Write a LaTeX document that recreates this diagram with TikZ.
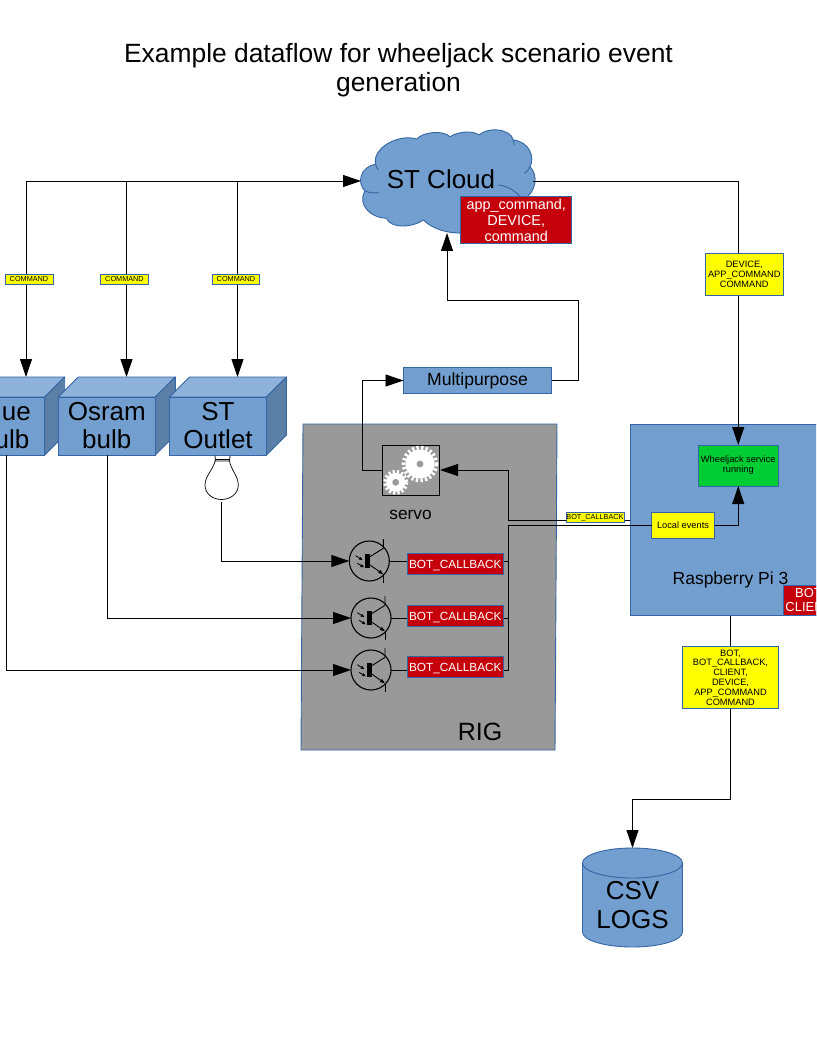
\documentclass[tikz,border=0pt]{standalone}
\usepackage{fontspec}
\setmainfont{Liberation Sans}
\usetikzlibrary{arrows.meta,calc}
\definecolor{bluefill}{HTML}{729FCF}
\definecolor{blueedge}{HTML}{3465A4}
\definecolor{bluetop}{HTML}{8EB2D9}
\definecolor{blueside}{HTML}{5B7FA6}
\definecolor{redbox}{HTML}{C5000B}
\definecolor{greenbox}{HTML}{00CC33}
\definecolor{riggray}{HTML}{999999}
\definecolor{yellowfill}{HTML}{FFFF00}
\newcommand{\fsz}[2]{\fontsize{#1}{#2}\selectfont}
\tikzset{
  wire/.style={draw=black,line width=0.9pt},
  arrowwire/.style={wire,-{Triangle[length=18pt,width=12pt]}},
  plainbox/.style={draw=blueedge,line width=0.9pt,inner sep=0pt,outer sep=0pt,align=center,anchor=north west},
  bluebox/.style={plainbox,fill=bluefill},
  redlabel/.style={plainbox,fill=redbox,text=white},
  yellowlabel/.style={plainbox,fill=yellowfill,text=black},
  minilabel/.style={draw=blueedge,line width=0.8pt,fill=yellowfill,inner sep=0pt,font=\fsz{7.3}{8},minimum height=10pt},
  cubefront/.style={plainbox,fill=bluefill,minimum height=58pt},
  cubetext/.style={align=center,font=\fsz{26}{28.5}},
  cubetop/.style={draw=blueedge,line width=0.9pt,line join=round,fill=bluetop},
  cubeside/.style={draw=blueedge,line width=0.9pt,line join=round,fill=blueside},
  transring/.style={circle,draw=black,line width=1.1pt,minimum size=40pt,inner sep=0pt,outer sep=0pt},
  redcb/.style={redlabel,minimum width=96pt,minimum height=21pt,font=\fsz{11.8}{13},text height=10.2pt,text depth=1.2pt},
}
% left, width, name, text
\newcommand{\cube}[4]{%
  \draw[cubetop] (#1,397) -- (#1+20,377) -- (#1+#2+20,377) -- (#1+#2,397) -- cycle;
  \draw[cubeside] (#1+#2,397) -- (#1+#2+20,377) -- (#1+#2+20,435) -- (#1+#2,455) -- cycle;
  \node[cubefront,minimum width=#2 pt] (#3) at (#1,397) {};
  \node[cubetext] (#3text) at ($(#3.center)+(0,-0.6)$) {#4};
}
\newcommand{\transistor}[3]{%
  \node[transring] (#1) at (#2,#3) {};
  \begin{scope}[shift={(#2,#3)}]
    \fill[black] (-4.3,-6.7) rectangle (0.7,7.3);
    \draw[line width=0.9pt] (0.7,-4.3) -- (14,-12.7) (14,-22) -- (14,-12.7);
    \draw[line width=0.9pt,-{Triangle[length=5pt,width=3.5pt]}] (0.7,4) -- (14,13.3);
    \draw[line width=0.9pt] (14,13) -- (14,22);
    \draw[line width=0.8pt,-{Triangle[length=3.5pt,width=3pt]}] (-13.7,-5.3) -- (-6.7,-1);
    \draw[line width=0.8pt,-{Triangle[length=3.5pt,width=3pt]}] (-12,2.3) -- (-5.3,6.3);
  \end{scope}
}
\begin{document}
\begin{tikzpicture}[x=1pt,y=-1pt]
\useasboundingbox (0,0) rectangle (816,1056);
\clip (0,0) rectangle (816,1056);
% title
\node[align=center,font=\fsz{26.4}{29}] (title) at (398.5,70.5) {Example dataflow for wheeljack scenario event\\generation};

% containers
\draw[draw=blueedge,line width=0.9pt,fill=riggray] (303,424) -- (557,424) -- (555,750) -- (301,750) -- cycle;
\node[font=\fsz{25}{28}] (rig) at (480,731.5) {RIG};
\node[bluebox,minimum width=200pt,minimum height=191.5pt] (pi) at (630,424) {};
\node[font=\fsz{17.5}{20}] (pilabel) at (730.5,579.5) {Raspberry Pi 3};

% cloud
\begin{scope}[shift={(355,125)},x=0.33333pt,y=-0.33333pt]
\draw[draw=blueedge,line width=0.9pt,fill=bluefill,line join=round]
 (30,198) .. controls (5,175) and (15,125) .. (62,118)
 .. controls (50,70) and (130,25) .. (185,42)
 .. controls (205,20) and (265,15) .. (285,35)
 .. controls (310,20) and (350,15) .. (372,30)
 .. controls (400,5) and (465,10) .. (475,45)
 .. controls (525,50) and (540,100) .. (525,125)
 .. controls (550,150) and (545,200) .. (505,225)
 .. controls (510,270) and (450,310) .. (400,300)
 .. controls (380,330) and (260,340) .. (205,285)
 .. controls (170,310) and (105,310) .. (95,280)
 .. controls (50,280) and (5,240) .. (30,198) -- cycle;
\draw[draw=blueedge,line width=0.9pt] (30,198) .. controls (42,203) and (58,205) .. (72,203);
\draw[draw=blueedge,line width=0.9pt] (430,180) .. controls (460,182) and (490,205) .. (505,225);
\draw[draw=blueedge,line width=0.9pt] (62,118) .. controls (63,125) and (66,130) .. (70,135);
\draw[draw=blueedge,line width=0.9pt] (475,45) .. controls (477,50) and (478,55) .. (478,60);
\draw[draw=blueedge,line width=0.9pt] (525,125) .. controls (520,135) and (515,140) .. (508,145);
\end{scope}
\coordinate (cloudL) at (361,181);
\coordinate (cloudR) at (533,181.6);
\coordinate (cloudB) at (447,233);
\node[font=\fsz{26}{28}] (cloudtext) at (441,179) {ST Cloud};

% cubes
\cube{-35}{79.7}{blue}{Blue\\bulb}
\cube{58.3}{97}{osram}{Osram\\bulb}
\cube{169.5}{97}{outlet}{ST\\Outlet}
\coordinate (blueT) at (26,377);
\coordinate (osramT) at (126.5,377);
\coordinate (outletT) at (237.5,377);
\coordinate (blueB) at (6.5,455);
\coordinate (osramB) at (107,455);
\coordinate (topbusL) at (26,181);
\coordinate (topbusO) at (126.5,181);
\coordinate (topbusS) at (237.5,181);

% command wires
\draw[arrowwire] (topbusL) -- (cloudL);
\draw[arrowwire] (topbusL) -- (blueT);
\draw[arrowwire] (topbusO) -- (osramT);
\draw[arrowwire] (topbusS) -- (outletT);
\node[minilabel,minimum width=48pt] (cmd1) at (29,279.3) {COMMAND};
\node[minilabel,minimum width=48pt] (cmd2) at (124.5,279.3) {COMMAND};
\node[minilabel,minimum width=47pt] (cmd3) at (236,279.3) {COMMAND};

% bulb
\coordinate (bulbB) at (221.2,502);
\fill[white] (215,461) .. controls (213,470) and (205,476) .. (205,485)
  .. controls (205,494) and (213,499.5) .. (221.5,499.5)
  .. controls (230,499.5) and (238.3,494) .. (238.3,485)
  .. controls (238.3,476) and (231,470) .. (229.5,461) -- cycle;
\draw[line width=0.7pt,line join=round] (215,461) .. controls (213,470) and (205,476) .. (205,485)
  .. controls (205,494) and (213,499.5) .. (221.5,499.5)
  .. controls (230,499.5) and (238.3,494) .. (238.3,485)
  .. controls (238.3,476) and (231,470) .. (229.5,461);
\draw[line width=0.8pt] (215,456) -- (215.5,461) -- (229.5,461) -- (230,456);
\draw[line width=0.8pt] (215.5,459) -- (229.5,459);

% servo
\node[draw=black,line width=0.9pt,outer sep=0pt,minimum width=57pt,minimum height=49.5pt,inner sep=0pt,anchor=north west,fill=riggray] (servo) at (382.5,445.5) {};
\fill[white] (420,464) circle (14.5);
\draw[white,line width=3.8pt,dash pattern=on 2.3pt off 2.3pt] (420,464) circle (16.4);
\fill[riggray] (420,464) circle (3.4);
\fill[white] (395.7,482.3) circle (9.5);
\draw[white,line width=3.2pt,dash pattern=on 2.2pt off 2.2pt] (395.7,482.3) circle (11);
\fill[riggray] (395.7,482.3) circle (3.4);
\node[font=\fsz{17.3}{20}] (servolabel) at (410.5,514.5) {servo};

% multipurpose
\node[bluebox,minimum width=148pt,minimum height=26pt,font=\fsz{17.6}{20},text height=14pt,text depth=3.2pt] (multi) at (403.5,367.5) {Multipurpose};
\coordinate (mu) at (578,300);
\coordinate (mc) at (447,300);
\draw[arrowwire] (multi.east) -| (mu) -- (mc) -- (cloudB);
\coordinate (sl) at (362,470.25);
\draw[arrowwire] (servo.west) -- (sl) |- (multi.west);

% transistors
\transistor{t1}{369.3}{561}
\transistor{t2}{371}{618}
\transistor{t3}{371}{670}
\draw[arrowwire] (bulbB) |- (t1.west);
\draw[arrowwire] (osramB) |- (t2.west);
\draw[arrowwire] (blueB) |- (t3.west);

% callback boxes
\coordinate (bus1) at (508.5,561);
\coordinate (bus2) at (508.5,618);
\coordinate (bus3) at (508.5,670);
\draw[wire] (t1.east) -- (bus1);
\draw[wire] (t2.east) -- (bus2);
\draw[wire] (t3.east) -- (bus3);
\node[redcb] (cb1) at (407.3,553.3) {BOT\_CALLBACK};
\node[redcb] (cb2) at (407.3,605.3) {BOT\_CALLBACK};
\node[redcb] (cb3) at (407.3,656.7) {BOT\_CALLBACK};

% pi interior
\node[plainbox,fill=greenbox,minimum width=79.5pt,minimum height=41pt,font=\fsz{9.25}{10}] (wheel) at (698.5,445) {Wheeljack service\\running};
\node[yellowlabel,minimum width=63pt,minimum height=25.5pt,font=\fsz{9.25}{11}] (local) at (651.5,512.5) {Local events};
\node[redlabel,minimum width=50pt,minimum height=30.5pt,font=\fsz{13}{13.5}] (piclient) at (783.5,585) {BOT\\CLIENT};

% bus wires
\draw[wire] (bus3) |- (local.west);
\coordinate (pil) at (630,520);
\coordinate (ju) at (508.5,520);
\coordinate (jd) at (508.5,470);
\coordinate (se) at (440,470);
\draw[arrowwire] (pil) -- (ju) -- (jd) -- (se);
\node[minilabel,minimum width=58pt] (cbk) at (595,517.5) {BOT\_CALLBACK};
\draw[arrowwire] (local.east) -| (wheel.south);

% cloud to pi
\draw[arrowwire] (cloudR) -| (wheel.north);
\node[yellowlabel,minimum width=78.5pt,minimum height=42pt,font=\fsz{9.25}{10}] (devlabel) at (705,253) {DEVICE,\\APP\_COMMAND\\COMMAND};

% cloud badge
\node[redlabel,minimum width=111pt,minimum height=47.5pt,font=\fsz{14.4}{16}] (badge) at (460.7,196.3) {app\_command,\\DEVICE,\\command};

% logs
\coordinate (pib) at (730.5,615.5);
\coordinate (lb) at (730.5,799);
\coordinate (lc) at (632.5,799);
\coordinate (csvT) at (632.5,848);
\draw[arrowwire] (pib) -- (lb) -- (lc) -- (csvT);
\node[yellowlabel,minimum width=96pt,minimum height=62pt,font=\fsz{9.25}{9.8}] (loglabel) at (682.5,646.5) {BOT,\\BOT\_CALLBACK,\\CLIENT,\\DEVICE,\\APP\_COMMAND\\COMMAND};

\draw[draw=blueedge,line width=0.9pt,fill=bluefill] (582.5,863) -- (582.5,932) arc[x radius=50,y radius=15,start angle=180,end angle=0] -- (682.5,863) -- cycle;
\draw[draw=blueedge,line width=0.9pt,fill=bluefill] (632.5,863) ellipse[x radius=50,y radius=15];
\node[align=center,font=\fsz{26}{29}] (csv) at (632.5,905) {CSV\\LOGS};
\end{tikzpicture}
\end{document}
